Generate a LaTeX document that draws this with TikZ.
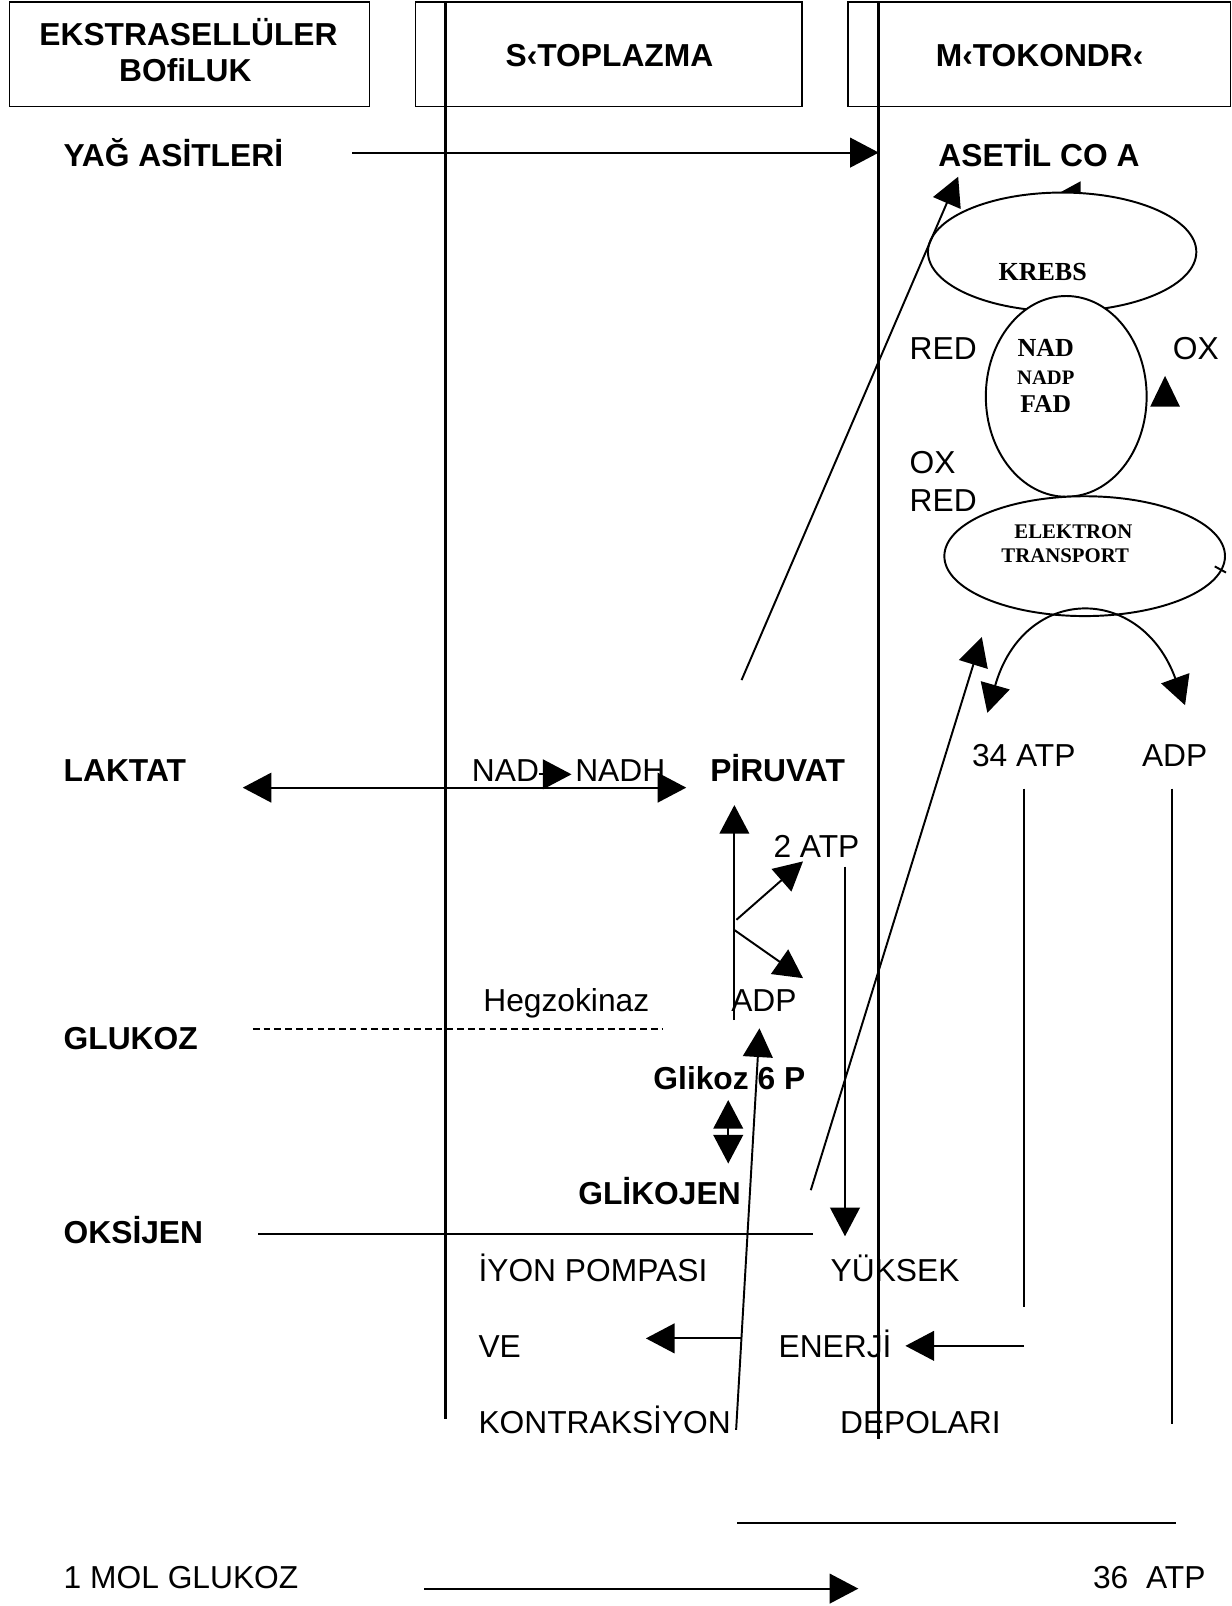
\documentclass[tikz,border=0pt]{standalone}
\usepackage{fontspec}
\setmainfont{Liberation Sans}
\newfontfamily\serifb{Liberation Serif}
\usetikzlibrary{arrows.meta,shapes.geometric}
\begin{document}
\begin{tikzpicture}[x=1pt,y=-1pt,
  lbl/.style={inner sep=0pt,anchor=base west,font=\fontsize{31}{36}\selectfont},
  blbl/.style={inner sep=0pt,anchor=base west,font=\fontsize{31}{36}\selectfont\bfseries},
  hdr/.style={inner sep=0pt,anchor=base,font=\fontsize{31}{36}\selectfont\bfseries},
  etxt/.style={inner sep=0pt,anchor=base,font=\fontsize{#1}{#1}\selectfont\serifb\bfseries},
  ln/.style={line width=1.9pt},
  wall/.style={line width=3.2pt},
  hbox/.style={line width=1.2pt},
  oval/.style={draw,ellipse,line width=1.9pt,fill=white,inner sep=0pt},
  tri/.style={-{Triangle[length=28pt,width=29pt]}},
  tritri/.style={{Triangle[length=28pt,width=29pt]}-{Triangle[length=28pt,width=29pt]}},
]
\path[use as bounding box] (0,0) rectangle (1202,1568);

% header boxes
\draw[hbox] (9,2) rectangle (361,104);
\draw[hbox] (406,2) rectangle (783,104);
\draw[hbox] (828,2) rectangle (1201,104);
\node[hdr] (h1a) at (184,44) {EKSTRASELLÜLER};
\node[hdr] (h1b) at (181,80) {BOfiLUK};
\node[hdr] (h2) at (595,65) {S‹TOPLAZMA};
\node[hdr] (h3) at (1015,65) {M‹TOKONDR‹};

% membranes
\coordinate (w1t) at (435,2); \coordinate (w1b) at (435,1385);
\coordinate (w2t) at (858,2); \coordinate (w2b) at (858,1405);
\draw[wall] (w1t) -- (w1b);
\draw[wall] (w2t) -- (w2b);

% small arrowhead on top of Krebs
\fill (1033,189) -- (1055,177) -- (1055,201) -- cycle;

% ellipses
\node[oval,minimum width=262pt,minimum height=116pt] (krebs) at (1037,246) {};
\node[oval,minimum width=157pt,minimum height=196pt] (nadell) at (1041,387) {};
\node[oval,minimum width=274pt,minimum height=117pt] (etell) at (1059,543) {};
\node[etxt=25.4] (krebsT) at (1018,273.4) {KREBS};
\node[etxt=25.4] (nadT) at (1021,348.3) {NAD};
\node[etxt=20.1] (nadpT) at (1021,375) {NADP};
\node[etxt=25] (fadT) at (1021,402.5) {FAD};
\node[etxt=20.3] (elT) at (1048,525.5) {ELEKTRON};
\node[etxt=20.3] (trT) at (1040,549.4) {TRANSPORT};
\coordinate (tickA) at (1186,553); \coordinate (tickB) at (1197,559);
\draw[ln] (tickA) -- (tickB);

% RED / OX
\node[lbl] (red1) at (888,350.6) {RED};
\node[lbl] (ox1) at (1145,350.6) {OX};
\node[lbl] (ox2) at (888,462) {OX};
\node[lbl] (red2) at (888,499.6) {RED};
\fill (1137.5,367) -- (1152,397) -- (1123,397) -- cycle;

% left labels
\node[blbl] (yag) at (62,163) {YAĞ ASİTLERİ};
\node[blbl] (aset) at (916,163) {ASETİL CO A};
\node[blbl] (laktat) at (62,763) {LAKTAT};
\node[blbl] (glukoz) at (62,1025) {GLUKOZ};
\node[blbl] (oksijen) at (62,1214) {OKSİJEN};
\node[lbl] (mol) at (62,1551) {1 MOL GLUKOZ};
\node[lbl] (atp36) at (1067,1551) {36~~ATP};

% cytoplasm texts
\node[lbl] (nad) at (460.6,763) {NAD};
\node[lbl] (nadh) at (561.5,763) {NADH};
\node[blbl] (piruvat) at (693.3,763) {PİRUVAT};
\node[lbl] (atp2) at (755,837) {2 ATP};
\node[lbl] (hegzo) at (471.7,988) {Hegzokinaz};
\node[lbl] (adp1) at (713.8,988) {ADP};
\node[blbl] (g6p) at (637.8,1063.7) {Glikoz 6 P};
\node[blbl] (glikojen) at (564.5,1175.7) {GLİKOJEN};
\node[lbl] (iyon) at (467,1251.5) {İYON POMPASI};
\node[lbl] (ve) at (467,1325) {VE};
\node[lbl] (kontr) at (467,1399.5) {KONTRAKSİYON};
\node[lbl] (yuksek) at (810.8,1251.5) {YÜKSEK};
\node[lbl] (enerji) at (760,1325) {ENERJİ};
\node[lbl] (depo) at (820,1399.5) {DEPOLARI};
\node[lbl] (atp34) at (948.8,748.6) {34 ATP};
\node[lbl] (adp2) at (1114.8,748.6) {ADP};

% connectors
\coordinate (yagS) at (344,149); \coordinate (yagE) at (858,149);
\draw[ln,tri] (yagS) -- (yagE);

\coordinate (lakL) at (237,769); \coordinate (lakR) at (670,769);
\draw[ln,tritri] (lakL) -- (lakR);

\coordinate (nadS) at (526,756); \coordinate (nadE) at (558,756);
\draw[ln,tri] (nadS) -- (nadE);

\coordinate (pirS) at (724,664); \coordinate (asetE) at (935.5,172.5);
\draw[ln,tri] (pirS) -- (asetE);

\coordinate (glyB) at (717,996); \coordinate (glyT) at (717,786);
\draw[ln,tri] (glyB) -- (glyT);
\coordinate (br1S) at (719,898); \coordinate (br1E) at (784,841);
\draw[ln,tri] (br1S) -- (br1E);
\coordinate (br2S) at (717,908); \coordinate (br2E) at (784,955);
\draw[ln,tri] (br2S) -- (br2E);

\coordinate (atpS) at (825,846); \coordinate (atpE) at (825,1207);
\draw[ln,tri] (atpS) -- (atpE);

\coordinate (g6pA) at (711,1074); \coordinate (g6pB) at (711,1136);
\draw[ln,tritri] (g6pA) -- (g6pB);

\coordinate (dashS) at (247,1005); \coordinate (dashE) at (647,1005);
\draw[ln,dash pattern=on 6.5pt off 4pt] (dashS) -- (dashE);

\coordinate (oksS) at (252,1205); \coordinate (oksE) at (794,1205);
\draw[ln] (oksS) -- (oksE);

\coordinate (kontS) at (718.7,1396); \coordinate (adpE) at (741.5,1004);
\draw[ln,tri] (kontS) -- (adpE);
\coordinate (veS) at (723.9,1306.7); \coordinate (veE) at (630.6,1306.7);
\draw[ln,tri] (veS) -- (veE);

\coordinate (gkS) at (791.6,1162); \coordinate (gkE) at (958.6,622);
\draw[ln,tri] (gkS) -- (gkE);

\coordinate (arcL) at (964,696); \coordinate (arcR) at (1157,688.5);
\draw[ln,tritri] (arcL) .. controls (1000,570) and (1114,570) .. (arcR);

\coordinate (v34T) at (1000,770); \coordinate (v34B) at (1000,1276);
\draw[ln] (v34T) -- (v34B);
\coordinate (vadT) at (1144,770); \coordinate (vadB) at (1144,1390);
\draw[ln] (vadT) -- (vadB);
\coordinate (enS) at (1000,1314); \coordinate (enE) at (884,1314);
\draw[ln,tri] (enS) -- (enE);

\coordinate (sumL) at (720,1487); \coordinate (sumR) at (1148,1487);
\draw[ln] (sumL) -- (sumR);
\coordinate (molS) at (414,1551); \coordinate (molE) at (838,1551);
\draw[ln,tri] (molS) -- (molE);
\end{tikzpicture}
\end{document}
